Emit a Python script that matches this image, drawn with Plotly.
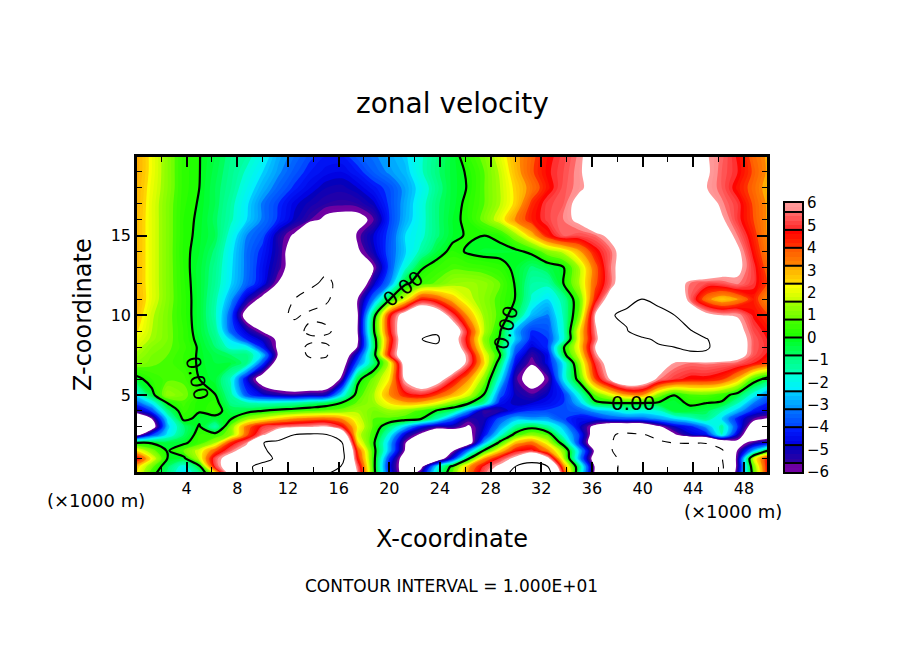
import plotly.graph_objects as go

x_km = [i * 1.25 for i in range(41)]
z_km = [20, 19, 18, 17, 16, 15, 14, 13, 12, 11, 10, 9, 8.5, 8, 7.5, 7, 6, 5, 4.5, 4, 3.5, 3, 2.5, 2, 1.5, 1, 0.5, 0]

u_z20 = [3.2,2.2,1.2,.3,.02,-.4,-1,-1.4,-2,-2.9,-3.4,-3.9,-4.2,-4.2,-3.7,-3.3,-2.9,-2.5,-1.7,-1,-.3,.4,1,2,3,3.8,4.6,5.1,5.7,7,8,8,8,8,8,8,6.1,5.5,4.7,3.7,3]
u_z19 = [3.2,2.2,1.2,.3,.02,-.5,-1.1,-1.7,-2.4,-3.1,-3.7,-4.2,-4.5,-4.6,-4.2,-3.6,-3.1,-2.7,-1.7,-.9,-.3,.1,.8,1.7,2.9,3.9,4.7,5.2,5.8,7,8,8,8,8,8,8,6.2,5.4,4.8,3.9,3]
u_z18 = [3.1,2.1,1.2,.3,.0,-.6,-1.2,-2,-2.8,-3.5,-4.1,-4.6,-5,-5.1,-4.8,-4.3,-3.8,-3,-2.1,-1.1,-.3,.05,.8,1.6,2.6,3.5,4.5,5.3,5.8,6.5,8,8,8,8,8,8,6.05,5.4,4.5,3.7,2.8]
u_z17 = [3.1,2,1.1,.25,-.05,-.6,-1.4,-2.3,-3.3,-4,-4.7,-5.1,-5.4,-5.5,-5.4,-4.9,-3.9,-2.9,-1.9,-.9,-.3,.2,.8,1.6,2.6,4.2,5.1,5.4,6.5,8,8,8,8,8,8,8,7,5.7,5,3.9,3]
u_z16 = [3,2,1.1,.2,-.1,-.7,-1.5,-2.4,-3.3,-4.1,-4.9,-5.6,-6.3,-6.5,-6.5,-5.7,-4,-2.8,-1.9,-.9,-.2,.2,1,2,3.4,4.4,5.1,5.6,6.3,8,8,8,8,8,8,8,8,6.2,5,4,3]
u_z15 = [3,2,1.1,.2,-.15,-.6,-1.9,-3.2,-3.8,-5.2,-6.2,-9,-9,-8,-5.8,-4.8,-3.8,-2.4,-1.8,-.9,-.2,.1,.0,.2,1.3,2.8,4.4,5.4,5.2,5.5,6.4,8,8,8,8,8,8,7,5.6,4.3,3]
u_z14 = [3,2,1.1,.15,-.2,-.9,-2.2,-3.4,-4.2,-5.2,-7,-9.5,-9.5,-8,-6.2,-5,-3.7,-2.5,-1.4,-.4,.25,-.1,-.25,-.25,-.2,.2,1.2,1.8,3,4.5,5.5,7,8,8,8,8,8,8,6.3,4.6,3.2]
u_z13 = [3,2,1.1,.2,-.3,-1.1,-2.3,-3.4,-4.4,-5.4,-6.8,-9,-9.5,-9,-7,-6,-3.8,-1.8,-.1,.4,.7,.6,.5,.3,-.2,-.9,-.5,-.05,1.6,3.7,5.6,7,8,8,8,8,8,7,6.4,5,3.5]
u_z12 = [3,2,1.1,.25,-.3,-1.2,-2.4,-3.5,-4.5,-6.1,-7.5,-9.5,-10.5,-9.3,-7.5,-5,-3.2,-.2,.5,.9,1.4,1.5,1.3,.8,-.1,-1.4,-1.4,.0,1.6,3.8,5.5,7.5,8.5,8.5,7,5.6,5.2,5.3,5.7,5,3.8]
u_z11 = [3.1,2,1.1,.3,-.3,-1.4,-3,-5,-6.5,-8,-10,-11,-10.3,-9,-6,-3.3,-.1,2,4.5,4,2.8,1.8,1.2,.6,-.05,-1.7,-2.4,-1.3,.8,4.4,7,9.6,10.05,9.6,8,5.5,3.5,2.6,3.2,4.4,3]
u_z10 = [2.9,1.7,1,.3,-.3,-1.5,-3.7,-6.8,-8,-9.5,-10.3,-9.6,-9.3,-8.5,-6.1,-.6,4.4,7,8.5,7.5,5.2,3,1.4,.6,-.6,-2.7,-3.3,-1.5,1,6,9.9,10.3,10.8,10.5,10.05,7.5,6.5,6,5.9,4.7,4]
u_z9 = [2.5,1.6,1,.4,-.3,-1.2,-3.6,-4.9,-6.1,-8.5,-9.2,-10.5,-10.5,-9,-6,-.2,4.5,7.5,8.8,9.5,7.5,4.5,1.6,.05,-2.8,-4.1,-3.8,-1.7,2.3,5.7,8.5,9.9,11,11.5,11,10.3,8.5,7,6.6,5.2,4.5]
u_z8p5 = [2.1,1.5,1,.4,-.2,-1,-2.5,-4.2,-5,-6.3,-8.5,-9.5,-9.4,-8.8,-6.2,-.7,4,7.5,9.95,10.6,7,4.3,1.2,-.1,-2.6,-4.3,-4,-1.8,2.3,5.5,8.5,9.8,9.7,10.3,10.8,10.8,10.2,8.5,6.9,5.4,4.7]
u_z8 = [1.8,1.2,.9,.5,-.1,-.8,-1.9,-2,-4.3,-6.3,-9,-10.5,-10.5,-8.5,-5.9,-.9,4.3,7.5,9.2,9.5,7.5,4.6,1.6,-.4,-3.4,-4.8,-4,-.1,2.4,6,8.5,9.2,9.5,9.8,10,10.5,10.5,8.5,7,5.4,4.8]
u_z7p5 = [1.5,1,.8,.4,-.1,-.5,-.8,-.9,-2.6,-6.2,-9,-10.3,-10.3,-7.5,-4.5,-.6,4.6,7.5,8.5,8.8,8,5.5,2.2,.05,-4,-5.5,-4.6,-.4,2,5.6,8,8.5,8.8,9,9.2,9.5,9.3,8,6.8,5.3,4.6]
u_z7 = [1.2,.9,.7,.4,-.1,-.4,-.4,-1,-3.8,-7,-9,-9.3,-9.2,-7,-3.5,-.9,1.8,7,9,9.2,8,5.5,2.5,-.7,-4.6,-5.9,-4.6,-2.2,1.3,4.9,7,8,8,7.5,5.9,5.6,5.7,5.6,5.4,4.8,4]
u_z6 = [-.3,.4,.7,.7,.0,-.3,-1.7,-4.7,-7,-8,-8,-8.3,-8,-5.7,-.3,1,2.4,6.3,8,7,5,3.3,1.2,-2.1,-5.5,-6.8,-5.8,-2.2,.5,4,6.3,8,7.5,5.7,5,4.6,4.6,4.2,2.9,.6,-.5]
u_z5 = [-2.2,-.3,1.4,1,.3,.02,-1.3,-3.8,-4.7,-5.2,-5.5,-5.2,-5,-2.2,.5,1.5,3.2,4.4,4.8,4,3,1.9,-.1,-3.7,-5,-5.5,-4.8,-4.1,-1.8,.8,2,3.1,3.2,1.2,.02,.7,.8,.4,-.4,-2,-3.5]
u_z4p5 = [-3.7,-2.2,.05,.7,.05,.3,-1,-1.4,-1.7,-1.6,-1.4,-1,-.6,.03,.9,1.4,2.4,3,2.9,2.2,1.2,.2,-1.2,-4.4,-5,-4.8,-4.5,-4,-2.7,-.3,.02,.05,.05,-.1,-.3,.15,.02,-.1,-1.5,-3.2,-4.2]
u_z4 = [-5.3,-3.8,-1,.5,.05,.4,-.5,-.4,0,.3,.5,.7,.9,1.1,1.5,1,1.4,1.2,.6,-.1,-.8,-3,-5.6,-5.2,-4.4,-4,-3.9,-3.9,-3.6,-2.9,-2.4,-1.7,-1.9,-1.7,-.3,-.3,-.6,-1.5,-2.7,-4.2,-4.8]
u_z3p5 = [-8,-6,-2.2,.2,-.2,-.3,-.05,1.3,2,2.7,3.3,3.6,3.7,3.2,1.9,.8,.7,.5,.05,-1.5,-3.6,-5.3,-5.1,-3.7,-2.7,-3,-3,-3.9,-4.5,-4.3,-3.7,-3.6,-3.5,-3,-2.4,-1.8,-1.1,-2.4,-4.3,-5.6,-6.2]
u_z3 = [-9,-7,-2.6,-.9,.1,-1.5,1.1,3.6,5,5.5,5.7,5.9,6.1,4.8,2.3,.7,-.8,-2.6,-4.5,-5.4,-5.2,-6.2,-4.8,-3,-1.2,-.3,-1.3,-2.7,-4.7,-6.5,-8,-8,-8,-6.3,-4.9,-4.3,-3,-1.3,-4,-7,-8]
u_z2p5 = [-6.8,-4,-2.2,-.8,.4,.4,1.2,3.8,5.7,7.5,10,10.5,10.2,7.8,1.9,.5,-1.9,-4.8,-6.3,-8,-8,-6.5,-4.4,-1.9,.5,1.3,.7,-2,-4,-7,-9.8,-10.5,-10.1,-9.6,-6.2,-4.9,-4.5,-1.6,-4.9,-8,-7]
u_z2 = [-.1,-.1,-.4,-.2,.5,1.5,4.3,5.7,9.9,11,12,12.5,12,10.2,2.6,.2,-2.7,-5.9,-8,-8,-8,-7,-2.8,.4,2.9,3.6,2,-.6,-4.2,-7.5,-9.9,-10.8,-10.8,-10.2,-9.95,-9.9,-9.9,-8.2,-6.6,-5.5,-4.8]
u_z1p5 = [2.5,1.1,-.1,.8,1.9,3.8,5.5,7,9.8,10.5,12,13,13,10.8,4,.4,-2.8,-6.1,-8,-8,-6.2,-3.2,.2,2.6,4.6,5,3.4,1.2,-2.6,-6.3,-9.9,-11,-11,-11,-11,-11,-11,-10.4,-5.9,-2.8,.2]
u_z1 = [4.9,2.2,-.05,-.3,1.8,5.3,7,8.5,9.5,10.3,13,14,14,11,4.5,.4,-4,-7,-8.5,-7.5,-4.4,-.1,3.2,5,6.5,9.2,6.5,1.7,-2.9,-7,-9,-11.5,-12,-12,-12,-12,-11.5,-10.2,-5.5,1.8,4.8]
u_z0p5 = [2.8,1,-.7,-2,-.3,5,7.5,9.7,10.5,11.5,12,12,10.8,9.9,5.5,.4,-4.5,-7,-6.5,-2.2,.4,3,5,6.4,10.2,10.8,10.1,3.5,-1,-6.2,-9.2,-11,-12,-12,-12,-12,-11,-10.5,-5.5,1,5]
u_z0 = [2.5,.3,-1,-2.4,-1.2,1.5,6.5,9.5,10.5,11,11,11,10,9.5,6,.5,-4,-7,-5,-1.5,1,3.5,5.5,8,12,13,11.5,4.8,-1.5,-6.4,-9.3,-11,-12,-12,-12,-12,-11,-10.5,-5,.5,5]

u_rows = [u_z20,u_z19,u_z18,u_z17,u_z16,u_z15,u_z14,u_z13,u_z12,u_z11,u_z10,u_z9,u_z8p5,u_z8,u_z7p5,u_z7,
          u_z6,u_z5,u_z4p5,u_z4,u_z3p5,u_z3,u_z2p5,u_z2,u_z1p5,u_z1,u_z0p5,u_z0]
for n, r in enumerate(u_rows):
    assert len(r) == len(x_km), (n, len(r))

x_ticks = list(range(4, 49, 4))
z_ticks = [5, 10, 15]
bar_ticks = list(range(-6, 7))
bar_separators = [-5.6,-4.8,-4,-3.2,-2.4,-1.6,-.8,0,.8,1.6,2.4,3.2,4,4.8,5.6]

color_values = [-6,-5.6,-5.55,-4.85,-4.75,-4.05,-3.95,-3.25,-3.15,-2.45,-2.35,-1.65,-1.55,-.85,-.75,-.05,.05,.75,.85,1.55,1.65,2.35,2.45,3.15,3.25,3.95,4.05,4.75,4.85,5.55,5.65,6]
color_rgb = [(115,0,165),(105,0,160),(50,0,160),(0,0,190),(0,0,225),(0,30,255),(0,70,255),(0,115,255),(0,150,255),(0,205,255),
             (0,240,255),(0,255,215),(0,255,175),(0,255,125),(0,255,95),(0,255,30),(30,255,0),(70,255,0),(110,255,0),(160,255,0),
             (200,255,0),(255,255,0),(255,215,0),(255,170,0),(255,130,0),(255,90,0),(255,50,0),(255,0,0),(255,45,45),(255,105,105),
             (255,145,145),(255,155,155)]
Z_LIM = 14.0

def pos(v):
    return (v + Z_LIM) / (2 * Z_LIM)

colorscale = [[0.0, "white"], [pos(-6.0001), "white"]]
for v, c in zip(color_values, color_rgb):
    colorscale.append([pos(v), "rgb(%d,%d,%d)" % c])
colorscale += [[pos(6.0001), "white"], [1.0, "white"]]

BLACK = "black"
FONT = "DejaVu Sans"
W, H = 904, 654
L, R, T, B = 137, 767, 157, 472
BL, BR, BT, BB = 785, 802, 203, 472

fig = go.Figure()
fig.add_trace(go.Contour(x=x_km, y=z_km, z=u_rows, zmin=-Z_LIM, zmax=Z_LIM, colorscale=colorscale, showscale=False,
                         autocontour=False, contours=dict(start=-Z_LIM, end=Z_LIM, size=0.2, coloring="fill"),
                         line=dict(width=0), hoverinfo="skip"))
for level, width, dash in [(0, 2.2, "solid"), (10, 1.1, "solid"), (-10, 1.1, "dash")]:
    fig.add_trace(go.Contour(x=x_km, y=z_km, z=u_rows, showscale=False, autocontour=False,
                             contours=dict(start=level, end=level, size=1, coloring="none"),
                             line=dict(color=BLACK, width=width, dash=dash), hoverinfo="skip"))

bar_levels = [-5.9 + 0.2 * i for i in range(60)]
fig.add_trace(go.Heatmap(x=[0, 1], y=bar_levels, z=[[v, v] for v in bar_levels], zmin=-Z_LIM, zmax=Z_LIM,
                         colorscale=colorscale, showscale=False, xaxis="x2", yaxis="y2", hoverinfo="skip"))

axis_common = dict(showgrid=False, zeroline=False, ticks="inside", showline=True, linecolor=BLACK, linewidth=2.5,
                   mirror="ticks", tickcolor=BLACK, tickwidth=2, ticklen=10, layer="above traces", automargin=False,
                   tickfont=dict(family=FONT, size=16, color=BLACK))
fig.update_layout(
    width=W, height=H, margin=dict(l=0, r=0, t=0, b=0), paper_bgcolor="white", plot_bgcolor="white", showlegend=False,
    font=dict(family=FONT, color=BLACK),
    xaxis=dict(axis_common, domain=[L / W, R / W], range=[0.08, 49.82], tickvals=x_ticks,
               minor=dict(ticks="inside", ticklen=5, tickwidth=1, tickcolor=BLACK, dtick=2, tick0=0)),
    yaxis=dict(axis_common, domain=[(H - B) / H, (H - T) / H], range=[0.16, 19.94], tickvals=z_ticks,
               minor=dict(ticks="inside", ticklen=5, tickwidth=1, tickcolor=BLACK, dtick=1, tick0=0)),
    xaxis2=dict(domain=[BL / W, BR / W], range=[0, 1], anchor="y2", showgrid=False, zeroline=False, showticklabels=False,
                ticks="", showline=True, mirror=True, linecolor=BLACK, linewidth=2, automargin=False),
    yaxis2=dict(domain=[(H - BB) / H, (H - BT) / H], range=[-6, 6], anchor="x2", side="right", tickvals=bar_ticks,
                showgrid=False, zeroline=False, ticks="", showline=True, mirror=True, linecolor=BLACK, linewidth=2,
                automargin=False, tickfont=dict(family=FONT, size=15, color=BLACK)),
    shapes=[dict(type="line", xref="x2", yref="y2", x0=0, x1=1, y0=s, y1=s, line=dict(color=BLACK, width=2))
            for s in bar_separators],
)

def note(text, px, py, size, angle=0):
    fig.add_annotation(text=text, x=px / W, y=1 - py / H, xref="paper", yref="paper", showarrow=False,
                       font=dict(family=FONT, size=size, color=BLACK), textangle=angle, xanchor="center", yanchor="middle")

note("zonal velocity", 452, 104, 28)
note("X-coordinate", 452, 539, 24)
note("Z-coordinate", 83, 315, 24, -90)
note("(×1000 m)", 96, 500, 18)
note("(×1000 m)", 733, 511, 18)
note("CONTOUR INTERVAL = 1.000E+01", 451, 586, 17)
note("0.00", 403, 289, 20, -38)
note("0.00", 506, 328, 20, -75)
note("0.00", 633, 403, 20, 0)
note("0.00", 197, 378, 20, 78)

fig.write_html("out.html", config=dict(displayModeBar=False), post_script="document.body.style.margin='0';")
